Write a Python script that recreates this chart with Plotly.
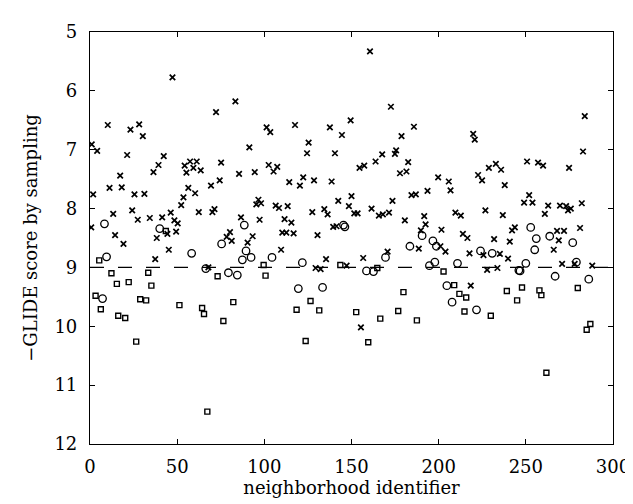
import plotly.graph_objects as go

cross_x = [47.3, 72.3, 10.2, 23.2, 28.2, 30.3, 1.0, 4.1, 21.3, 42.3, 39.3, 17.3, 36.4, 54.3, 57.4, 61.2, 55.3, 59.3, 63.5, 75.2,
           74.4, 83.4, 101.3, 103.4, 117.6, 137.6, 149.5, 144.5, 125.4, 91.4, 124.5, 140.5, 85.5, 94.5, 102.5, 107.4, 105.3, 114.3, 122.3, 128.5,
           138.6, 160.6, 172.6, 185.8, 178.7, 219.8, 220.7, 175.6, 174.9, 167.6, 163.8, 157.3, 154.6, 182.5, 177.8, 181.5, 199.7, 205.8, 222.6, 224.9,
           283.8, 282.8, 228.8, 232.8, 235.8, 250.7, 257.0, 259.9, 274.8, 1.8, 11.2, 18.2, 25.5, 31.2, 56.4, 53.6, 60.3, 52.3, 69.4, 13.3,
           24.2, 27.4, 34.3, 41.4, 46.3, 48.4, 50.3, 49.4, 44.4, 38.3, 62.4, 70.2, 71.4, 0.7, 14.4, 19.2, 45.2, 37.4, 67.9, 120.4,
           96.6, 95.4, 98.1, 106.5, 108.4, 113.4, 127.5, 134.4, 136.3, 142.4, 148.5, 150.0, 86.6, 97.3, 111.6, 115.5, 139.5, 141.4, 110.3, 112.6,
           116.8, 130.5, 80.3, 78.4, 81.3, 93.3, 90.4, 109.6, 135.4, 129.4, 132.3, 147.2, 206.8, 184.4, 186.9, 193.6, 173.5, 161.5, 151.6, 153.5,
           165.7, 168.0, 171.5, 180.6, 191.7, 192.5, 201.6, 209.6, 212.7, 189.8, 213.9, 216.5, 188.6, 201.0, 203.9, 170.7, 156.7, 217.7, 218.4, 155.4,
           237.9, 251.9, 249.0, 253.8, 262.8, 269.6, 273.1, 274.2, 275.8, 282.1, 260.9, 226.8, 236.8, 242.1, 243.7, 267.9, 271.9, 281.1, 231.8, 240.8,
           268.9, 266.0, 225.7, 235.1, 239.8, 227.8, 233.7, 270.8, 288.1, 278.0]
cross_y = [5.77, 6.36, 6.58, 6.66, 6.57, 6.77, 6.91, 7.02, 7.09, 7.11, 7.26, 7.44, 7.38, 7.27, 7.20, 7.20, 7.39, 7.31, 7.35, 7.22,
           7.52, 6.18, 6.62, 6.70, 6.58, 6.62, 6.50, 6.75, 6.88, 6.96, 7.06, 7.06, 7.41, 7.38, 7.26, 7.29, 7.37, 7.55, 7.47, 7.52,
           7.54, 5.33, 6.27, 6.61, 6.77, 6.73, 6.83, 7.01, 7.07, 7.08, 7.20, 7.27, 7.31, 7.21, 7.40, 7.37, 7.47, 7.54, 7.43, 7.52,
           6.43, 7.03, 7.31, 7.24, 7.34, 7.20, 7.22, 7.27, 7.31, 7.76, 7.65, 7.64, 7.76, 7.75, 7.65, 7.81, 7.74, 7.94, 7.61, 8.09,
           8.03, 8.19, 8.16, 8.15, 8.07, 8.20, 8.25, 8.39, 8.43, 8.50, 8.06, 8.06, 8.01, 8.32, 8.45, 8.60, 8.70, 8.86, 9.00, 7.61,
           7.85, 7.93, 7.91, 7.95, 7.99, 7.96, 8.06, 8.01, 8.10, 7.87, 7.96, 7.79, 8.15, 8.19, 8.18, 8.24, 8.31, 8.30, 8.41, 8.41,
           8.42, 8.45, 8.40, 8.48, 8.55, 8.47, 8.58, 8.70, 8.86, 9.01, 9.03, 8.97, 7.69, 7.77, 7.76, 7.70, 7.87, 8.00, 8.08, 8.08,
           8.12, 8.10, 8.07, 8.20, 8.13, 8.27, 8.36, 8.07, 8.12, 8.37, 8.43, 8.50, 8.68, 8.64, 8.73, 8.73, 8.84, 8.76, 9.31, 10.02,
           7.60, 7.77, 7.90, 7.90, 7.95, 7.95, 7.96, 8.03, 8.00, 7.91, 8.09, 8.03, 8.11, 8.37, 8.32, 8.38, 8.38, 8.33, 8.52, 8.56,
           8.54, 8.70, 8.79, 8.77, 8.85, 9.04, 9.01, 8.94, 8.97, 8.94]

circle_x = [8.3, 40.0, 9.5, 58.3, 66.4, 75.5, 7.2, 88.5, 89.5, 87.4, 92.4, 104.4, 79.4, 84.5, 121.8, 145.4, 146.2, 119.5, 133.4,
            190.5, 183.5, 196.7, 198.7, 169.5, 158.6, 162.6, 194.7, 197.8, 210.8, 224.0, 204.7, 207.7, 221.7,
            252.8, 256.0, 263.7, 276.9, 255.1, 230.7, 250.0, 246.0, 246.7, 279.0, 266.8, 286.1]
circle_y = [8.26, 8.34, 8.82, 8.76, 9.02, 8.60, 9.53, 8.28, 8.72, 8.87, 8.83, 8.83, 9.09, 9.13, 8.92, 8.28, 8.31, 9.36, 9.34,
            8.46, 8.64, 8.55, 8.64, 8.83, 9.06, 9.07, 8.97, 8.91, 8.93, 8.72, 9.31, 9.59, 9.72,
            8.32, 8.51, 8.47, 8.58, 8.70, 8.76, 8.93, 9.05, 9.06, 8.91, 9.15, 9.20]

square_x = [43.5, 5.3, 12.3, 33.4, 15.4, 22.2, 35.2, 73.2, 3.2, 28.8, 32.2, 51.3, 6.2, 64.3, 65.4, 16.2, 20.2, 76.5, 26.5, 67.3,
            99.6, 100.7, 143.6, 82.2, 126.5, 118.5, 131.5, 123.7,
            164.8, 202.8, 179.8, 208.9, 211.9, 215.8, 152.7, 176.8, 214.8, 166.5, 187.5, 159.6,
            239.1, 247.8, 257.8, 258.9, 245.0, 279.8, 229.9, 287.0, 284.9, 261.8]
square_y = [8.38, 8.88, 9.10, 9.09, 9.28, 9.25, 9.31, 9.15, 9.48, 9.54, 9.56, 9.64, 9.71, 9.69, 9.79, 9.82, 9.86, 9.91, 10.26, 11.45,
            8.96, 9.14, 8.96, 9.59, 9.57, 9.72, 9.73, 10.25,
            9.01, 9.07, 9.42, 9.30, 9.45, 9.51, 9.76, 9.74, 9.75, 9.87, 9.90, 10.27,
            9.40, 9.34, 9.39, 9.47, 9.56, 9.35, 9.82, 9.96, 10.06, 10.79]

threshold = 9.0
x_ticks = [0, 50, 100, 150, 200, 250, 300]
y_ticks = [5, 6, 7, 8, 9, 10, 11, 12]

FONT = "DejaVu Serif"

fig = go.Figure()
fig.add_trace(go.Scatter(x=cross_x, y=cross_y, mode="markers",
                         marker=dict(symbol="x-thin-open", size=5.5, color="black",
                                     line=dict(width=1.7, color="black"))))
fig.add_trace(go.Scatter(x=circle_x, y=circle_y, mode="markers",
                         marker=dict(symbol="circle-open", size=7.5, color="black",
                                     line=dict(width=1.3, color="black"))))
fig.add_trace(go.Scatter(x=square_x, y=square_y, mode="markers",
                         marker=dict(symbol="square-open", size=5, color="black",
                                     line=dict(width=1.4, color="black"))))

fig.add_shape(type="line", xref="x", yref="y", x0=0, x1=300, y0=threshold, y1=threshold,
              line=dict(color="black", width=1.2, dash="14px,14px"), layer="below")

axis_common = dict(showgrid=False, zeroline=False, showline=True, linecolor="black", linewidth=1.2,
                   mirror="ticks", ticks="inside", ticklen=5, tickwidth=1.2, tickcolor="black",
                   tickfont=dict(family=FONT, size=18, color="black"))

fig.update_xaxes(range=[0, 300], tickvals=x_ticks, ticktext=[str(v) for v in x_ticks],
                 ticklabelstandoff=6,
                 title=dict(text="neighborhood identifier", font=dict(family=FONT, size=18, color="black"), standoff=4),
                 **axis_common)
fig.update_yaxes(range=[12, 5], tickvals=y_ticks, ticktext=[str(v) for v in y_ticks],
                 ticklabelstandoff=8,
                 title=dict(text="\u2212GLIDE score by sampling", font=dict(family=FONT, size=18, color="black"), standoff=12),
                 **axis_common)

fig.update_layout(width=633, height=504, showlegend=False,
                  paper_bgcolor="white", plot_bgcolor="white",
                  margin=dict(l=82, r=28, t=24, b=68, autoexpand=False))

fig.write_html("out.html")
